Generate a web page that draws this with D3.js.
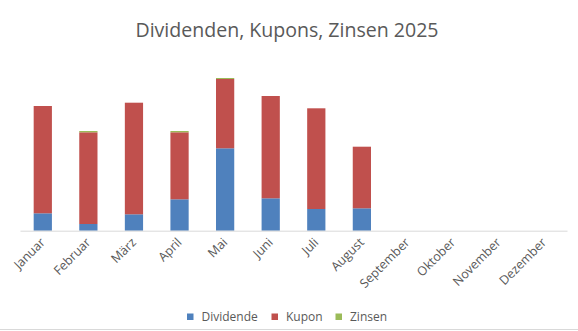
<!DOCTYPE html>
<html><head><meta charset="utf-8">
<script src="https://cdn.jsdelivr.net/npm/d3@7"></script>
<style>html,body{margin:0;padding:0;background:#fff;}svg{display:block;}</style>
</head><body>
<script>
const months = ["Januar","Februar","März","April","Mai","Juni","Juli","August","September","Oktober","November","Dezember"];
const dividende = [17.4, 6.7, 16.4, 31.4, 82.4, 32.4, 21.7, 22.4, 0, 0, 0, 0];
const kupon     = [107.3, 91.7, 111.6, 67, 69.3, 102.3, 100.7, 61.6, 0, 0, 0, 0];
const zinsen    = [0, 1.3, 0, 1.3, 1.0, 0, 0, 0, 0, 0, 0, 0];
const seriesNames = ["Dividende","Kupon","Zinsen"];
const colors = ["#4F81BD","#C0504D","#9BBB59"];

const W = 578, H = 331;
const font = "'Open Sans', sans-serif";
const svg = d3.select("body").append("svg").attr("width", W).attr("height", H);

const rows = months.map((m,i)=>({month:m, Dividende:dividende[i], Kupon:kupon[i], Zinsen:zinsen[i]}));
const stack = d3.stack().keys(seriesNames)(rows);

const x = d3.scaleBand().domain(months).range([20, 567]).paddingInner(0.6).paddingOuter(0.3);
const y = d3.scaleLinear().domain([0, 170]).range([230.7, 60.7]);

svg.append("text").attr("x", 287).attr("y", 37).attr("text-anchor","middle")
  .attr("font-family", font).attr("font-size", 20).attr("fill","#595959")
  .attr("textLength", 303).attr("lengthAdjust","spacingAndGlyphs")
  .text("Dividenden, Kupons, Zinsen 2025");

const g = svg.append("g");
stack.forEach((s, si) => {
  g.selectAll(null).data(s).enter().append("rect")
    .attr("x", d => x(d.data.month))
    .attr("width", x.bandwidth())
    .attr("y", d => y(d[1]))
    .attr("height", d => Math.max(0, y(d[0]) - y(d[1])))
    .attr("fill", colors[si]);
});

const xAxis = svg.append("g").attr("transform", `translate(0,${y(0)})`)
  .call(d3.axisBottom(x).tickSize(0).tickPadding(0));
xAxis.select(".domain").attr("stroke","#D9D9D9").attr("stroke-width",1);
xAxis.selectAll(".tick text")
  .attr("font-family", font).attr("font-size", 12.5).attr("fill","#595959")
  .attr("text-anchor","end").attr("dy", null)
  .attr("transform","translate(3,12.5) rotate(-45)");

const legend = svg.append("g");
const legX = [187, 271.5, 335.5];
seriesNames.forEach((n,i)=>{
  legend.append("rect").attr("x", legX[i]).attr("y", 313.5).attr("width", 6.5).attr("height", 6.5).attr("fill", colors[i]);
  legend.append("text").attr("x", legX[i] + 14.5).attr("y", 321).attr("font-family", font)
    .attr("font-size", 12).attr("fill","#595959").text(n);
});

svg.append("line").attr("x1",0).attr("x2",W).attr("y1",329.5).attr("y2",329.5).attr("stroke","#D9D9D9");
</script>
</body></html>
